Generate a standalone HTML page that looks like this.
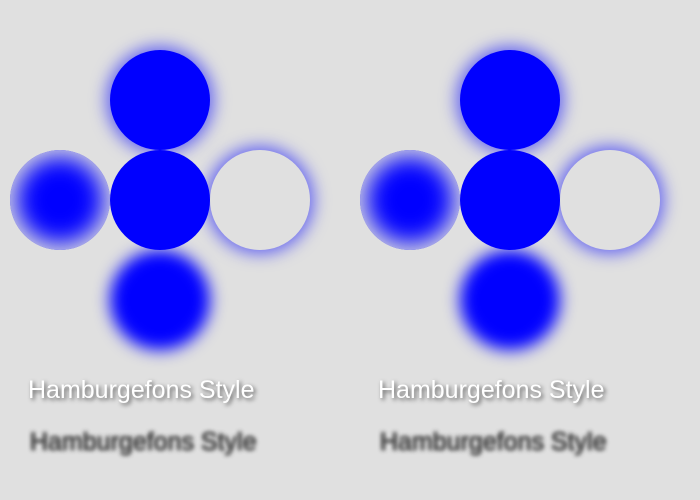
<!DOCTYPE html>
<html><head><style>
html,body{margin:0;padding:0;width:700px;height:500px;background:#e0e0e0;overflow:hidden;font-family:"Liberation Sans",sans-serif}
.g{position:absolute;top:0;width:350px;height:500px}
.c{position:absolute;width:100px;height:100px;border-radius:50%}
.top{left:110px;top:50px;background:#00f;box-shadow:0 0 16px 4px rgba(0,0,255,0.55)}
.mid{left:110px;top:150px;background:#00f}
.lft{left:10px;top:150px;background:#00f;box-shadow:inset 0 0 24px 6px #e0e0e0}
.rgt{left:210px;top:150px;background:#e0e0e0;box-shadow:0 0 16px 4px rgba(0,0,255,0.55)}
.bot{left:110px;top:250px;background:#00f;filter:blur(8px)}
.t1{position:absolute;left:28px;top:376px;font-size:25px;color:#fff;text-shadow:2px 2px 4px rgba(0,0,0,0.6);white-space:nowrap}
.t2{position:absolute;left:30px;top:428px;font-size:25px;color:transparent;text-shadow:0 0 4px #4a4a4a,0 0 4px #4a4a4a;white-space:nowrap}
</style></head><body>
<div class="g" style="left:0">
<div class="c top"></div>
<div class="c lft"></div>
<div class="c mid"></div>
<div class="c rgt"></div>
<div class="c bot"></div>
<div class="t1">Hamburgefons Style</div>
<div class="t2">Hamburgefons Style</div>
</div>
<div class="g" style="left:350px">
<div class="c top"></div>
<div class="c lft"></div>
<div class="c mid"></div>
<div class="c rgt"></div>
<div class="c bot"></div>
<div class="t1">Hamburgefons Style</div>
<div class="t2">Hamburgefons Style</div>
</div>
</body></html>
